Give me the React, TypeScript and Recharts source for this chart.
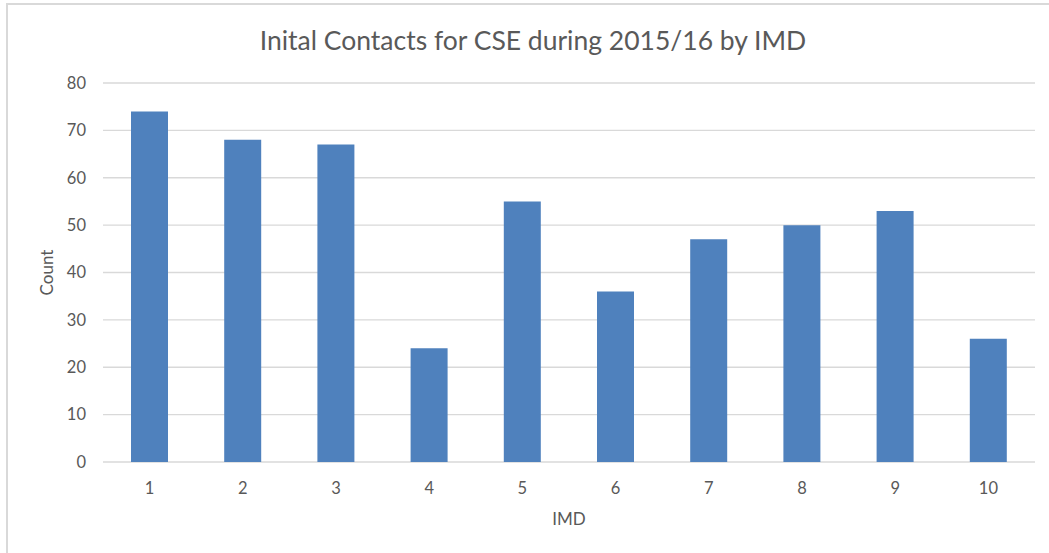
import React from 'react';
import { BarChart, Bar, XAxis, YAxis, CartesianGrid } from 'recharts';

const imdBands = ['1', '2', '3', '4', '5', '6', '7', '8', '9', '10'];
const contactCounts = [74, 68, 67, 24, 55, 36, 47, 50, 53, 26];
const countTicks = [0, 10, 20, 30, 40, 50, 60, 70, 80];

const chartData = imdBands.map((imd, i) => ({ imd, count: contactCounts[i] }));

const FONT = 'Lato, "Open Sans", sans-serif';
const TEXT = '#595959';

const App: React.FC = () => {
  return (
    <div style={{ position: 'absolute', left: 0, top: 0, width: 1049, height: 553, background: '#fff', fontFamily: FONT }}>
      {/* frame: only left and top edges show in the reference */}
      <div style={{ position: 'absolute', left: 6, top: 3, width: 1043, height: 2, background: '#D9D9D9' }} />
      <div style={{ position: 'absolute', left: 6, top: 3, width: 2, height: 550, background: '#D9D9D9' }} />
      <div
        style={{
          position: 'absolute', left: 183, top: 23, width: 700, textAlign: 'center',
          fontSize: 26.5, color: TEXT, lineHeight: '34px',
        }}
      >
        Inital Contacts for CSE during 2015/16 by IMD
      </div>
      <BarChart
        width={1049}
        height={553}
        data={chartData}
        margin={{ top: 83, right: 14, left: 43, bottom: 61 }}
        barSize={37}
        style={{ position: 'absolute', left: 0, top: 0 }}
      >
        <CartesianGrid vertical={false} stroke="#D9D9D9" strokeWidth={1.3} />
        <XAxis
          dataKey="imd"
          axisLine={false}
          tickLine={false}
          tickSize={0}
          tickMargin={20}
          height={30}
          tick={{ fill: TEXT, fontSize: 16.5, fontFamily: FONT }}
          label={{ value: 'IMD', position: 'center', dy: 42, fill: TEXT, fontSize: 17, fontFamily: FONT }}
        />
        <YAxis
          domain={[0, 80]}
          ticks={countTicks}
          axisLine={false}
          tickLine={false}
          tickSize={0}
          tickMargin={17}
          width={60}
          tick={{ fill: TEXT, fontSize: 16.5, fontFamily: FONT }}
          label={{ value: 'Count', angle: -90, position: 'center', dx: -26, fill: TEXT, fontSize: 17, fontFamily: FONT }}
        />
        <Bar dataKey="count" fill="#4F81BD" isAnimationActive={false} />
      </BarChart>
    </div>
  );
};

export default App;
